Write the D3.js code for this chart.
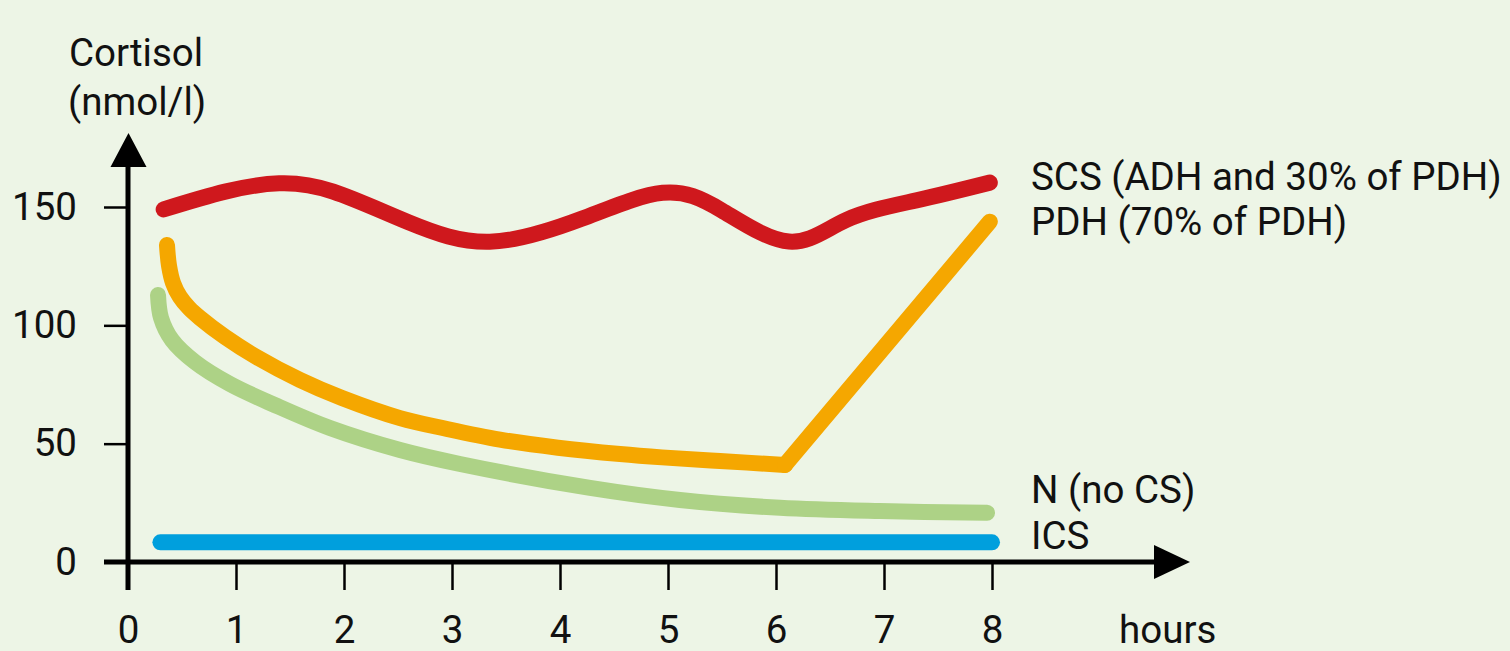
<!DOCTYPE html>
<html>
<head>
<meta charset="utf-8">
<script src="https://cdn.jsdelivr.net/npm/d3@7"></script>
<style>
  html, body { margin: 0; padding: 0; background: #edf5e6; }
  svg { display: block; }
  text { font-family: Roboto, "Noto Sans", sans-serif; fill: #111; }
</style>
</head>
<body>
<svg id="chart" width="1510" height="651"></svg>
<script>
// Axis ticks
const hourTicks = [0, 1, 2, 3, 4, 5, 6, 7, 8];
const cortisolTicks = [0, 50, 100, 150];

// Series: hours after dosing and cortisol (nmol/l)
const scsHours  = [0.33, 0.9, 1.4, 1.9, 2.6, 3.35, 4.2, 4.95, 5.5, 6.12, 6.65, 7.3, 7.98];
const scsValues = [149, 156.5, 160, 156.5, 143.5, 135.3, 145, 156, 148.5, 135.4, 144.5, 152.8, 160.3];

const pdhHours  = [0.361, 0.380, 0.417, 0.481, 0.565, 0.667, 0.898, 1.176, 1.593, 1.981, 2.519, 2.944, 3.444, 3.981, 4.556, 4.944, 5.481, 6.083, 7.98];
const pdhValues = [133.9, 125.1, 117.9, 112.0, 107.3, 103.1, 95.1, 87.0, 76.9, 69.3, 60.8, 56.3, 51.7, 48.3, 45.6, 44.2, 42.7, 41.0, 143.8];

const nHours  = [0.278, 0.306, 0.407, 0.620, 0.944, 1.361, 1.870, 2.519, 3.074, 4.278, 5.111, 6.037, 6.963, 7.954];
const nValues = [112.8, 103.1, 93.8, 84.5, 75.2, 66.3, 56.6, 47.3, 41.4, 31.3, 26.2, 22.9, 21.5, 20.8];

const icsHours  = [0.3, 8.0];
const icsValues = [8.3, 8.3];

const seriesLabels = ["SCS (ADH and 30% of PDH)", "PDH (70% of PDH)", "N (no CS)", "ICS"];
const seriesColors = ["#cf181d", "#f5a700", "#add286", "#009fdd"];

const FONT = 38.5;

const svg = d3.select("#chart");
svg.append("rect").attr("width", 1510).attr("height", 651).attr("fill", "#edf5e6");

const x = d3.scaleLinear().domain([0, 8]).range([128, 992]);
const y = d3.scaleLinear().domain([0, 150]).range([562, 207]);

const zip = (hs, vs) => hs.map((h, i) => ({ h, v: vs[i] }));

// Axes: tick marks and labels
const xAxis = d3.axisBottom(x).tickValues(hourTicks).tickSize(28).tickPadding(26).tickSizeOuter(0);
const gx = svg.append("g").attr("transform", `translate(0,${y(0)})`).call(xAxis);
gx.select(".domain").remove();
gx.selectAll("line").attr("stroke", "#000").attr("stroke-width", 2.5);
gx.selectAll("text").attr("font-size", FONT).attr("fill", "#111")
  .style("font-family", "Roboto, 'Noto Sans', sans-serif");

const yAxis = d3.axisLeft(y).tickValues(cortisolTicks).tickSize(24).tickPadding(27).tickSizeOuter(0);
const gy = svg.append("g").attr("transform", `translate(${x(0)},0)`).call(yAxis);
gy.select(".domain").remove();
gy.selectAll("line").attr("stroke", "#000").attr("stroke-width", 2.5);
gy.selectAll("text").attr("font-size", FONT).attr("fill", "#111")
  .style("font-family", "Roboto, 'Noto Sans', sans-serif");

// Axis lines with arrow heads
const axisG = svg.append("g");
const x0 = x(0), y0 = y(0);
axisG.append("line").attr("x1", 104).attr("x2", 1160).attr("y1", y0).attr("y2", y0)
  .attr("stroke", "#000").attr("stroke-width", 5);
axisG.append("path").attr("d", `M1154,${y0 - 17}L1190,${y0}L1154,${y0 + 17}Z`).attr("fill", "#000");
axisG.append("line").attr("x1", x0).attr("x2", x0).attr("y1", 590).attr("y2", 162)
  .attr("stroke", "#000").attr("stroke-width", 5);
axisG.append("path").attr("d", `M${x0 - 17.5},167L${x0 + 0.5},133L${x0 + 18.5},167Z`).attr("fill", "#000");

// Axis titles
svg.append("text").attr("x", 69).attr("y", 66).attr("font-size", FONT).text("Cortisol");
svg.append("text").attr("x", 68).attr("y", 115).attr("font-size", FONT).text("(nmol/l)");
svg.append("text").attr("x", 1119).attr("y", 643).attr("font-size", FONT).text("hours");

// Lines
const decay = d3.line().x(d => x(d.h)).y(d => y(d.v)).curve(d3.curveCatmullRom.alpha(0.5));
const wave = d3.line().x(d => x(d.h)).y(d => y(d.v)).curve(d3.curveNatural);
const straight = d3.line().x(d => x(d.h)).y(d => y(d.v));

const lines = svg.append("g").attr("fill", "none").attr("stroke-width", 16)
  .attr("stroke-linecap", "round").attr("stroke-linejoin", "round");

lines.append("path").datum(zip(icsHours, icsValues)).attr("d", straight).attr("stroke", seriesColors[3]);
lines.append("path").datum(zip(nHours, nValues)).attr("d", decay).attr("stroke", seriesColors[2]);

// PDH: smooth decline, then a straight rise after the low point
const pdh = zip(pdhHours, pdhValues);
const turn = pdh.length - 2;
lines.append("path").datum(pdh.slice(0, turn + 1)).attr("d", decay).attr("stroke", seriesColors[1]);
lines.append("path").datum(pdh.slice(turn)).attr("d", straight).attr("stroke", seriesColors[1]);

lines.append("path").datum(zip(scsHours, scsValues)).attr("d", wave).attr("stroke", seriesColors[0]);

// Series labels
const labelBaselines = [190, 235, 503, 549];
svg.append("g").selectAll("text").data(seriesLabels).join("text")
  .attr("x", 1031).attr("y", (d, i) => labelBaselines[i]).attr("font-size", FONT).text(d => d);
</script>
</body>
</html>
